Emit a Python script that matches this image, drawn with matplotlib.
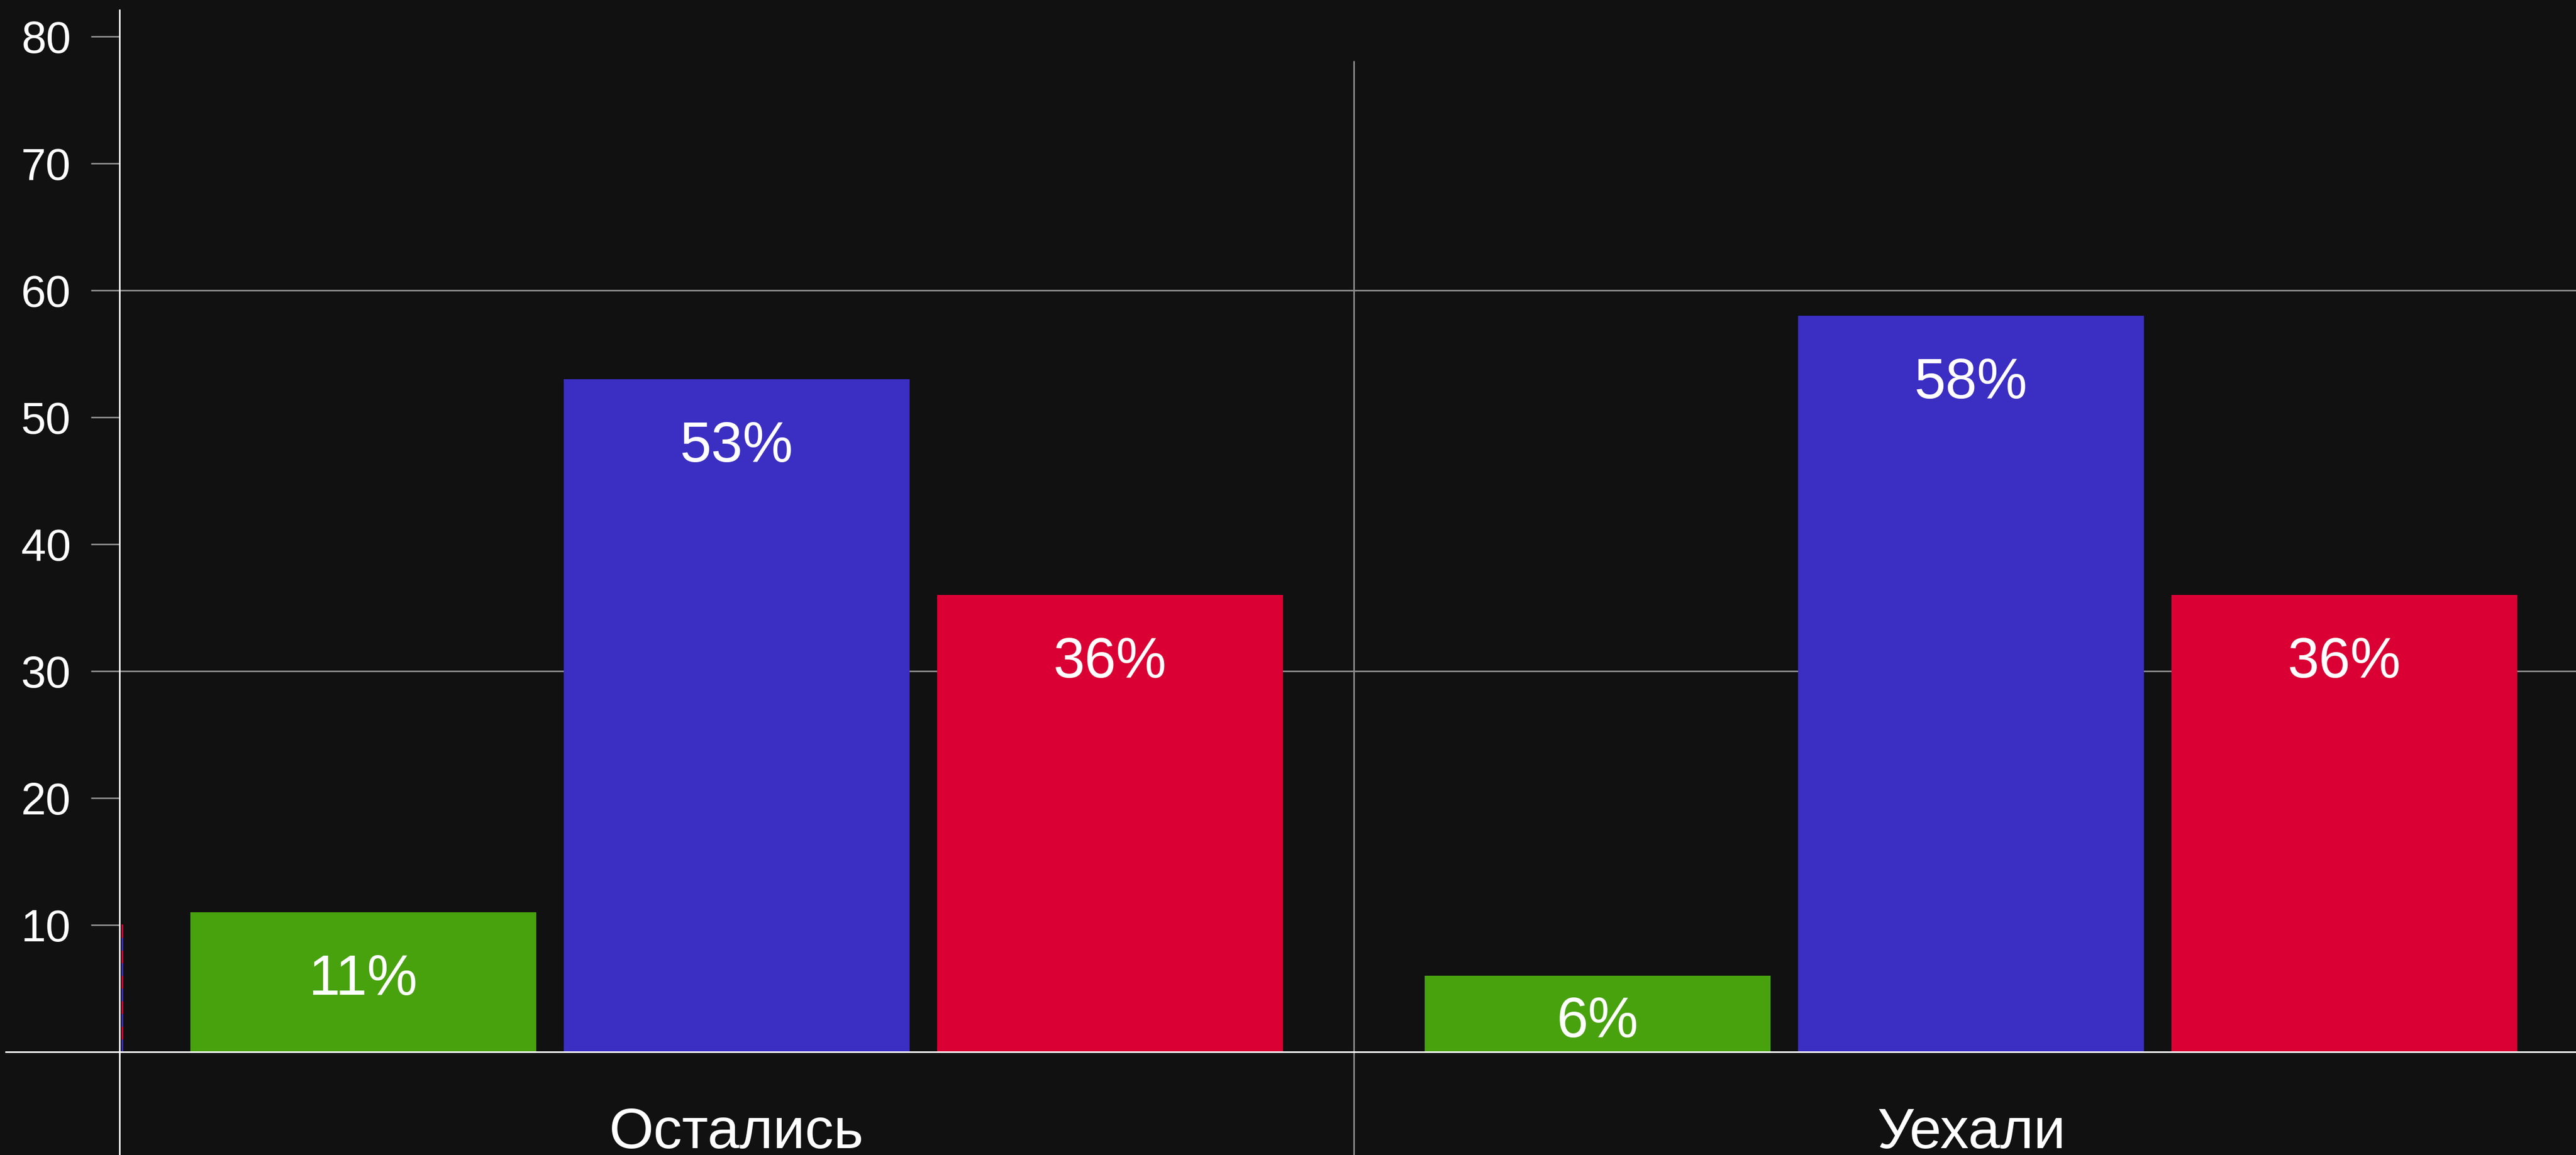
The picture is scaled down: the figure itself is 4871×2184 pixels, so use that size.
import numpy as np
import matplotlib
matplotlib.use("Agg")
import matplotlib.pyplot as plt

# Данные
categories = ["Остались", "Уехали"]
green_vals = [11, 6]
blue_vals = [53, 58]
red_vals = [36, 36]
y_ticks = [10, 20, 30, 40, 50, 60, 70, 80]
grid_y = [60, 30]

bg = "#111111"
c_green = "#48a20e"
c_blue = "#3b2ec2"
c_red = "#da0034"
c_gray = "#888888"

plt.rcParams["font.family"] = ["Liberation Sans", "DejaVu Sans"]
plt.rcParams["lines.scale_dashes"] = False

px = 72 / 100  # 1 пиксель в пунктах при dpi=100

fig = plt.figure(figsize=(48.71, 21.84), dpi=100, facecolor=bg)
ax = fig.add_axes([0, 0, 1, 1])
ax.set_facecolor(bg)
ax.set_xlim(-0.5968, 1.490)
ax.set_ylim(-8.11, 82.89)

x = np.arange(len(categories))
width = 0.2802
step = 0.3025

series = [(green_vals, c_green, -step), (blue_vals, c_blue, 0), (red_vals, c_red, step)]
for vals, color, off in series:
    bars = ax.bar(x + off, vals, width=width, color=color, zorder=3)
    for rect, v in zip(bars, vals):
        ypos = max(v - 5.33, 0.39 * v)
        ax.text(rect.get_x() + rect.get_width() / 2, ypos, f"{v}%",
                ha="center", va="center", color="white", fontsize=77, zorder=4)

# Сетка
ax.hlines(grid_y, -0.5227, 1.49, color=c_gray, linewidth=3 * px, zorder=1)
ax.vlines([0.5], -8.11, 78.1, color=c_gray, linewidth=3 * px, zorder=1)

# Маленькая линия у оси
ax.plot([-0.498, -0.498], [10, 0], color=c_red, linewidth=3 * px, zorder=2)
ax.plot([-0.498, -0.498], [10, 0], color=c_blue, linewidth=3 * px, zorder=2,
        linestyle=(24 * px, (24 * px, 24 * px)))

# Оси
for s in ["top", "right"]:
    ax.spines[s].set_visible(False)
ax.spines["left"].set_position(("data", -0.5))
ax.spines["left"].set_bounds(-8.11, 82.1)
ax.spines["left"].set_color("white")
ax.spines["left"].set_linewidth(3 * px)
ax.spines["left"].set_zorder(5)
ax.spines["bottom"].set_position(("data", 0))
ax.spines["bottom"].set_bounds(-0.592, 1.49)
ax.spines["bottom"].set_color("white")
ax.spines["bottom"].set_linewidth(3 * px)
ax.spines["bottom"].set_zorder(5)

ax.set_yticks(y_ticks)
ax.set_yticklabels([str(t) for t in y_ticks])
ax.tick_params(axis="y", direction="out", length=54 * px, width=3 * px,
               color=c_gray, labelcolor="white", labelsize=61, pad=38 * px)

ax.set_xticks(x)
ax.set_xticklabels(categories)
ax.tick_params(axis="x", length=0, labelcolor="white", labelsize=78, pad=104 * px)

fig.savefig("out.png", dpi=100, facecolor=bg)
